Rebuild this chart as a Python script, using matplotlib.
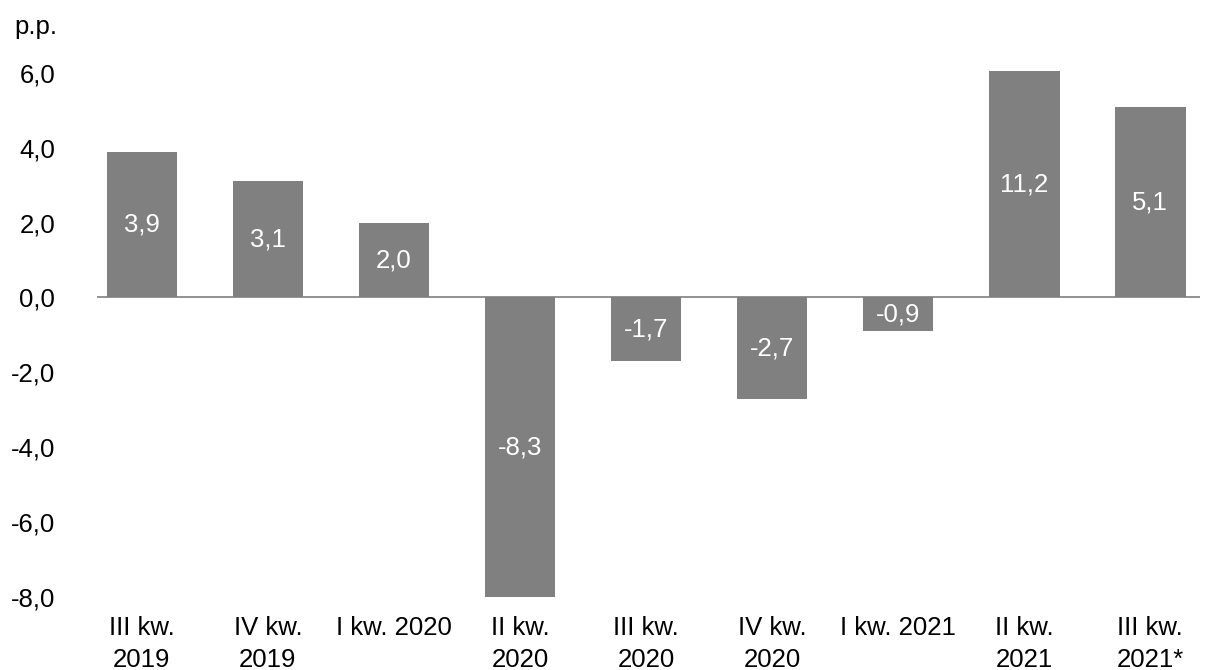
import matplotlib
matplotlib.use('Agg')
import matplotlib.pyplot as plt

plt.rcParams['font.family'] = ['Liberation Sans', 'DejaVu Sans']

kwartaly = ['III kw.\n2019', 'IV kw.\n2019', 'I kw. 2020', 'II kw.\n2020', 'III kw.\n2020',
            'IV kw.\n2020', 'I kw. 2021', 'II kw.\n2021', 'III kw.\n2021*']
wartosci = [3.9, 3.1, 2.0, -8.3, -1.7, -2.7, -0.9, 11.2, 5.1]

y_min, y_max = -8.0, 6.05
fs = 18.5

fig = plt.figure(figsize=(12.1, 6.7), dpi=100)
ax = fig.add_axes([0.080, 0.109, 0.912, 0.785])

x = range(len(wartosci))
ax.bar(x, wartosci, width=0.56, color='#808080', zorder=2)
ax.axhline(0, color='#7f7f7f', linewidth=1.2, zorder=3)

# etykiety w srodku widocznej czesci slupka
for xi, v in zip(x, wartosci):
    top = min(max(v, y_min), y_max)
    ax.text(xi, top / 2, f'{v:.1f}'.replace('.', ','), ha='center', va='center',
            color='white', fontsize=fs, zorder=4)

ax.set_ylim(y_min, y_max)
ax.set_xlim(-0.357, 8.397)
ax.set_yticks([-8, -6, -4, -2, 0, 2, 4, 6])
ax.set_yticklabels([f'{t:.1f}'.replace('.', ',') for t in [-8, -6, -4, -2, 0, 2, 4, 6]])
ax.set_xticks(list(x))
ax.set_xticklabels(kwartaly, linespacing=1.42)
ax.tick_params(axis='both', length=0, labelsize=fs, colors='black')
ax.tick_params(axis='y', pad=30)
ax.tick_params(axis='x', pad=14)
for s in ax.spines.values():
    s.set_visible(False)

fig.text(0.012, 0.96, 'p.p.', fontsize=fs, va='center', ha='left')

fig.savefig('out.png', dpi=100)
